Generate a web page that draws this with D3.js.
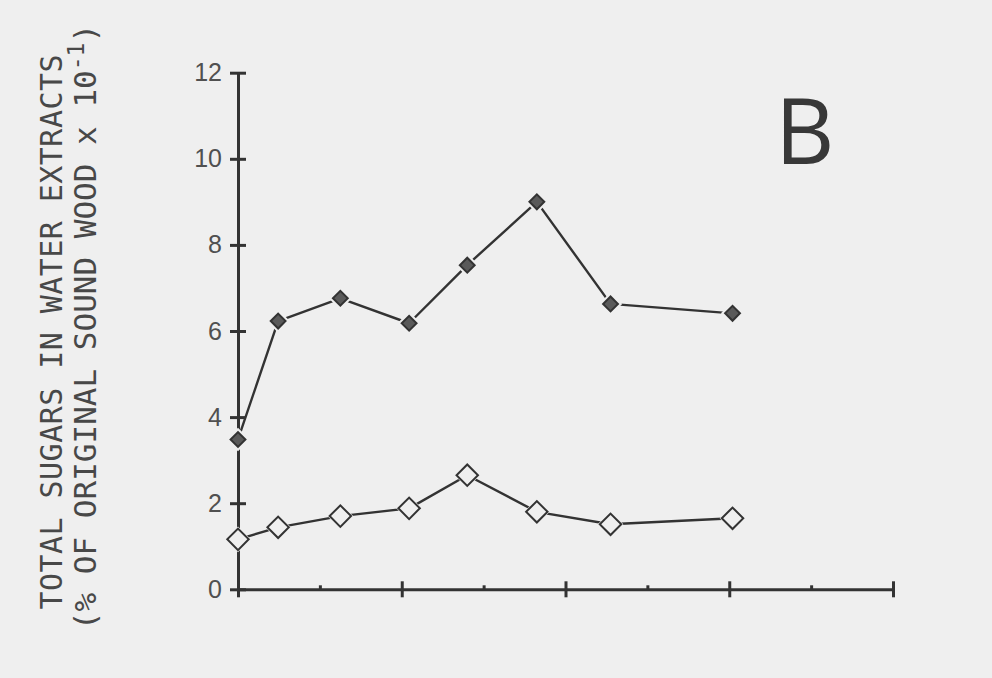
<!DOCTYPE html>
<html>
<head>
<meta charset="utf-8">
<script src="https://cdn.jsdelivr.net/npm/d3@7"></script>
<style>
  html, body { margin: 0; padding: 0; background: #efefef; }
  svg { display: block; }
</style>
</head>
<body>
<svg id="chart" width="992" height="678"></svg>
<script>
// Sampling times (x units) shared by both series
const times = [0, 0.98, 2.5, 4.18, 5.6, 7.3, 9.1, 12.08];
// Total sugars, upper series (filled diamonds)
const filledValues = [3.48, 6.23, 6.76, 6.18, 7.53, 9.0, 6.63, 6.41];
// Total sugars, lower series (open diamonds)
const openValues = [1.16, 1.44, 1.70, 1.88, 2.65, 1.80, 1.51, 1.65];
// Axis ticks
const yTickValues = [0, 2, 4, 6, 8, 10, 12];
const xMajorTicks = [0, 4, 8, 12, 16];
const xMinorTicks = [2, 6, 10, 14];
const titleLine1 = "TOTAL SUGARS IN WATER EXTRACTS";
const titleLine2 = "(% OF ORIGINAL SOUND WOOD x 10";
const titleSup = "-1";
const panelLabel = "B";

const bg = "#efefef";
const ink = "#333333";

const svg = d3.select("#chart");
svg.append("rect").attr("width", 992).attr("height", 678).attr("fill", bg);

const x = d3.scaleLinear().domain([0, 16]).range([238, 893]);
const y = d3.scaleLinear().domain([0, 12]).range([589.3, 72.7]);

// Y axis with crossing tick marks
const yAxis = d3.axisLeft(y)
  .tickValues(yTickValues)
  .tickSizeInner(8)
  .tickSizeOuter(0)
  .tickPadding(8)
  .tickFormat(d3.format("d"));

const gy = svg.append("g").attr("transform", `translate(${x(0)},0)`).call(yAxis);
gy.select(".domain").attr("stroke", ink).attr("stroke-width", 3);
gy.selectAll(".tick line").attr("x1", 8).attr("x2", -8)
  .attr("stroke", ink).attr("stroke-width", 3);
gy.selectAll(".tick text")
  .attr("font-family", "Liberation Sans, Arial, sans-serif")
  .attr("font-size", 25)
  .attr("fill", "#505050");

// X axis: major crossing ticks, minor small bumps, no labels
const xAxis = d3.axisBottom(x)
  .tickValues(xMajorTicks)
  .tickSizeInner(7)
  .tickSizeOuter(0)
  .tickFormat("");
const gx = svg.append("g").attr("transform", `translate(0,${y(0)})`).call(xAxis);
gx.select(".domain").attr("stroke", ink).attr("stroke-width", 3);
gx.selectAll(".tick line").attr("y1", -8).attr("y2", 8)
  .attr("stroke", ink).attr("stroke-width", 3);

const xMinor = d3.axisBottom(x).tickValues(xMinorTicks).tickSize(0).tickFormat("");
const gxm = svg.append("g").attr("transform", `translate(0,${y(0)})`).call(xMinor);
gxm.select(".domain").remove();
gxm.selectAll(".tick line").attr("y1", -4).attr("y2", 0)
  .attr("stroke", ink).attr("stroke-width", 3);

// Series lines
const line = d3.line().x(d => x(d[0])).y(d => y(d[1]));
const filledPts = times.map((t, i) => [t, filledValues[i]]);
const openPts = times.map((t, i) => [t, openValues[i]]);

[filledPts, openPts].forEach(pts => {
  svg.append("path").datum(pts)
    .attr("d", line)
    .attr("fill", "none")
    .attr("stroke", ink)
    .attr("stroke-width", 2.4)
    .attr("stroke-linejoin", "round");
});

// Diamond markers (squares turned 45 degrees), with a paper-coloured halo
const square = d3.symbol().type(d3.symbolSquare);

function drawMarkers(pts, size, fill, halo) {
  const g = svg.append("g");
  g.selectAll("path.halo").data(pts).join("path")
    .attr("class", "halo")
    .attr("d", square.size(size)())
    .attr("transform", d => `translate(${x(d[0])},${y(d[1])}) rotate(45)`)
    .attr("fill", bg)
    .attr("stroke", bg)
    .attr("stroke-width", halo);
  g.selectAll("path.mark").data(pts).join("path")
    .attr("class", "mark")
    .attr("d", square.size(size)())
    .attr("transform", d => `translate(${x(d[0])},${y(d[1])}) rotate(45)`)
    .attr("fill", fill)
    .attr("stroke", ink)
    .attr("stroke-width", 2);
}
drawMarkers(filledPts, 110, "#5a5a5a", 6);
drawMarkers(openPts, 230, bg, 3);

// Y-axis title, two rotated lines
const title = svg.append("g").attr("font-family", "DejaVu Sans Mono, monospace")
  .attr("fill", "#484848");
title.append("text")
  .attr("transform", "translate(62,332) rotate(-90)")
  .attr("text-anchor", "middle")
  .attr("font-size", 30)
  .attr("textLength", 555)
  .attr("lengthAdjust", "spacing")
  .text(titleLine1);

const t2 = title.append("text")
  .attr("transform", "translate(96,327) rotate(-90)")
  .attr("text-anchor", "middle")
  .attr("font-size", 31);
t2.append("tspan").text(titleLine2);
t2.append("tspan").attr("font-size", 23).attr("dy", -12).text(titleSup);
t2.append("tspan").attr("dy", 12).text(")");

// Panel label
svg.append("text")
  .attr("x", 775).attr("y", 164)
  .attr("font-family", "Open Sans, Liberation Sans, sans-serif")
  .attr("font-weight", 400)
  .attr("font-size", 92)
  .attr("fill", "#383838")
  .text(panelLabel);
</script>
</body>
</html>
